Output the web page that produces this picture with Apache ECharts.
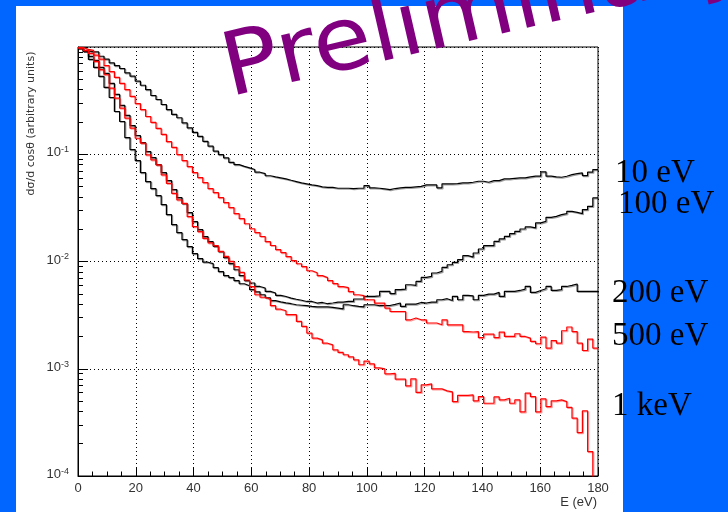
<!DOCTYPE html>
<html>
<head>
<meta charset="utf-8">
<script src="https://cdn.jsdelivr.net/npm/echarts@6/dist/echarts.min.js"></script>
<style>
html,body{margin:0;padding:0;background:#0066ff;}
#c{width:728px;height:512px;}
</style>
</head>
<body>
<div id="c"></div>
<script>
// Histogram: 100 bins of 1.8 eV from 0 to 180 eV
const binWidth = 1.8;
const xTicks = [0, 20, 40, 60, 80, 100, 120, 140, 160, 180];
const yDecades = [1e-4, 1e-3, 1e-2, 1e-1, 1];
const curveNames = ['10 eV', '100 eV', '200 eV', '500 eV', '1 keV'];

const s10eV = [0.98,0.92,0.90,0.90,0.82,0.77,0.71,0.67,0.63,0.575,
0.535,0.48,0.44,0.40,0.353,0.324,0.291,0.261,0.235,0.219,
0.196,0.176,0.160,0.147,0.132,0.119,0.107,0.099,0.0925,0.084,
0.080,0.077,0.0746,0.072,0.068,0.066,0.063,0.0615,0.0602,0.0589,
0.0572,0.0556,0.054,0.053,0.0518,0.051,0.0497,0.0492,0.0492,0.0482,
0.0482,0.0482,0.0479,0.0482,0.0482,0.051,0.0486,0.0482,0.0475,0.0468,
0.0479,0.0486,0.0492,0.0492,0.0497,0.0502,0.0518,0.0518,0.0518,0.0486,
0.053,0.053,0.0533,0.054,0.054,0.0548,0.056,0.056,0.0548,0.0568,
0.0568,0.0589,0.0589,0.0597,0.0602,0.0602,0.0615,0.0624,0.0624,0.0686,
0.0624,0.0615,0.061,0.0624,0.0646,0.066,0.067,0.0633,0.068,0.072];

const s100eV = [0.970,0.910,0.817,0.750,0.645,0.567,0.457,0.361,0.285,0.230,
0.185,0.1495,0.1286,0.106,0.0932,0.0801,0.0675,0.0568,0.0468,0.0394,
0.0347,0.0286,0.0235,0.0198,0.01705,0.0153,0.01384,0.01235,0.01085,0.00954,
0.00838,0.00737,0.00662,0.0063,0.00585,0.00566,0.00526,0.00508,0.00484,0.00472,
0.00456,0.00445,0.00435,0.00424,0.00424,0.0041,0.00415,0.00404,0.0041,0.00418,
0.00418,0.00424,0.00424,0.00447,0.00447,0.00472,0.00472,0.00479,0.00526,0.00526,
0.00501,0.00546,0.00553,0.00607,0.00598,0.00652,0.0071,0.00726,0.00781,0.00808,
0.00881,0.00933,0.0098,0.0104,0.01133,0.0110,0.0120,0.01308,0.01404,0.01404,
0.0154,0.01622,0.01715,0.01818,0.0191,0.0201,0.021,0.02055,0.02288,0.02367,
0.0258,0.02637,0.02735,0.02795,0.02936,0.02874,0.02795,0.03046,0.03269,0.03916];

const s200eV = [0.970,0.910,0.766,0.645,0.532,0.42,0.338,0.2504,0.202,0.1432,
0.1106,0.0873,0.0675,0.0556,0.0478,0.0411,0.0339,0.02735,0.02206,0.01858,
0.01597,0.01374,0.01182,0.01062,0.00985,0.00954,0.00875,0.00803,0.00737,0.00706,
0.00662,0.0062,0.00594,0.00546,0.00522,0.0049,0.00459,0.00431,0.00421,0.00412,
0.00404,0.00395,0.00391,0.00387,0.00381,0.00378,0.00378,0.00378,0.00374,0.00368,
0.00362,0.00395,0.00387,0.00382,0.00378,0.00395,0.00395,0.00387,0.00389,0.00389,
0.00399,0.0041,0.00382,0.00401,0.00401,0.00415,0.0041,0.00418,0.00418,0.0044,
0.0045,0.00433,0.00472,0.0044,0.00484,0.00479,0.0044,0.00483,0.00497,0.00497,
0.00515,0.00472,0.00526,0.00526,0.00537,0.00553,0.00585,0.00515,0.00537,0.00557,
0.00585,0.00537,0.00546,0.00585,0.00598,0.00617,0.00526,0.00526,0.00526,0.00526];

const s500eV = [0.99,0.95,0.93,0.84,0.77,0.67,0.59,0.52,0.457,0.40,
0.346,0.297,0.261,0.225,0.198,0.174,0.153,0.131,0.116,0.0993,
0.0873,0.0767,0.0675,0.0606,0.0543,0.0478,0.0439,0.0394,0.0354,0.0318,
0.0279,0.0251,0.0225,0.0202,0.0186,0.0171,0.0153,0.0141,0.0129,0.0121,
0.0111,0.0102,0.00953,0.00894,0.0082,0.00786,0.00738,0.00707,0.00663,0.00621,
0.00582,0.0057,0.00523,0.0049,0.0048,0.0044,0.0044,0.0041,0.0041,0.00368,
0.00342,0.00342,0.00342,0.00286,0.00297,0.00286,0.00286,0.00267,0.00267,0.00257,
0.00286,0.00257,0.00257,0.00257,0.00222,0.0022,0.00222,0.00195,0.0021,0.0021,
0.00195,0.0022,0.002,0.002,0.00212,0.002,0.00193,0.0018,0.00171,0.00197,
0.00156,0.00183,0.00173,0.00226,0.00245,0.00222,0.00173,0.00148,0.00189,0.00156];

const s1keV = [0.976,0.93,0.871,0.734,0.614,0.551,0.413,0.333,0.269,0.217,
0.175,0.141,0.127,0.0987,0.0887,0.0796,0.0642,0.0536,0.0432,0.0375,
0.0349,0.0262,0.0211,0.019,0.0164,0.0149,0.01404,0.01243,0.01116,0.01002,
0.00894,0.00791,0.00672,0.00582,0.0049,0.00464,0.00445,0.00387,0.00359,0.00347,
0.00319,0.00319,0.00276,0.00248,0.00215,0.00193,0.00186,0.00173,0.00167,0.0015,
0.00142,0.00135,0.00129,0.00121,0.00109,0.00118,0.00111,0.00102,0.000998,0.000896,
0.000906,0.0008,0.0008,0.000692,0.000805,0.000602,0.000708,0.000723,0.000649,0.000649,
0.000622,0.000609,0.000494,0.000564,0.000564,0.00057,0.000502,0.00055,0.000477,0.000477,
0.000546,0.000512,0.000531,0.000477,0.000512,0.000396,0.000592,0.00055,0.000396,0.000523,
0.000444,0.000502,0.000512,0.000494,0.000436,0.000346,0.000254,0.000404,0.000169,0.00005];

const seriesValues = [s10eV, s100eV, s200eV, s500eV, s1keV];
const seriesColors = ['#000000', '#000000', '#000000', '#ff0000', '#ff0000'];
const shadowColors = ['rgba(0,0,0,0.38)', 'rgba(0,0,0,0.38)', 'rgba(0,0,0,0.38)', 'rgba(255,0,0,0.4)', 'rgba(255,0,0,0.4)'];

// layout of the curve labels at right (positions only)
const labelPos = [[615,173],[618,204],[612,293],[612,336],[612,406]];

function histData(vals) {
  const d = vals.map((v, i) => [+(i * binWidth).toFixed(2), v]);
  d.push([+(vals.length * binWidth).toFixed(2), vals[vals.length - 1]]);
  return d;
}

const yMinor = [];
yDecades.slice(0, -1).forEach(d => { for (let m = 2; m <= 9; m++) yMinor.push(+(m * d).toPrecision(3)); });

const chart = echarts.init(document.getElementById('c'), null, {renderer: 'canvas'});

const series = seriesValues.map((vals, k) => ({
  name: curveNames[k],
  type: 'line',
  step: 'end',
  symbol: 'none',
  clip: true,
  silent: true,
  data: histData(vals),
  lineStyle: {color: seriesColors[k], width: 1.2, shadowColor: shadowColors[k], shadowBlur: 0, shadowOffsetX: 1, shadowOffsetY: 1},
  z: 3
}));

const graphic = [
  {type: 'rect', z: -10, silent: true, shape: {x: 16, y: 6, width: 607, height: 506}, style: {fill: '#ffffff'}},
  {type: 'text', x: 31, y: 123.5, rotation: Math.PI / 2, z: 50,
   style: {text: 'dσ/d cosθ (arbitrary units)', font: '11px "DejaVu Sans", sans-serif', fill: '#333', align: 'center', verticalAlign: 'middle'}},
  {type: 'text', x: 597, y: 502, z: 50,
   style: {text: 'E (eV)', font: '13px "Liberation Sans", Arial, sans-serif', fill: '#333', align: 'right', verticalAlign: 'middle'}},
  {type: 'text', x: 234, y: 117, rotation: 0.227, scaleX: 1.08, z: 100,
   style: {text: 'Preliminary', font: '88px "DejaVu Sans", sans-serif', fill: '#800080', align: 'left', verticalAlign: 'bottom'}}
];
curveNames.forEach((n, k) => {
  graphic.push({type: 'text', x: labelPos[k][0], y: labelPos[k][1], z: 100,
    style: {text: n, font: '33px "Liberation Serif", "Times New Roman", serif', fill: '#000', align: 'left', verticalAlign: 'middle'}});
});

const option = {
  backgroundColor: '#0066ff',
  animation: false,
  grid: {left: 78, top: 47, width: 520, height: 429, show: true, borderColor: '#000', borderWidth: 1, backgroundColor: 'transparent'},
  xAxis: {
    type: 'value', min: xTicks[0], max: xTicks[xTicks.length - 1], interval: 20,
    axisLine: {show: true, lineStyle: {color: '#000', width: 1}},
    axisTick: {show: true, inside: true, length: 9, lineStyle: {color: '#000'}},
    minorTick: {show: true, splitNumber: 4, length: 4.5, lineStyle: {color: '#000'}},
    splitLine: {show: true, lineStyle: {color: '#000', type: [1, 3], width: 1}},
    axisLabel: {color: '#333', fontSize: 13, fontFamily: '"Liberation Sans", Arial, sans-serif', margin: 6}
  },
  yAxis: [{
    type: 'log', logBase: 10, min: yDecades[0], max: yDecades[yDecades.length - 1],
    axisLine: {show: true, lineStyle: {color: '#000', width: 1}},
    axisTick: {show: true, inside: true, length: 10, lineStyle: {color: '#000'}},
    splitLine: {show: true, lineStyle: {color: '#000', type: [1, 3], width: 1}},
    axisLabel: {
      margin: 9,
      padding: [0, 0, 4, 0],
      formatter: function (v) {
        const e = Math.round(Math.log10(v));
        if (e >= 0) return '';
        return '{b|10}{s|' + e + '}';
      },
      rich: {
        b: {fontSize: 13, color: '#333', fontFamily: '"Liberation Sans", Arial, sans-serif', lineHeight: 14, verticalAlign: 'bottom'},
        s: {fontSize: 9, color: '#333', fontFamily: '"Liberation Sans", Arial, sans-serif', lineHeight: 10, verticalAlign: 'top', padding: [0, 0, 10, 0]}
      }
    }
  }, {
    type: 'log', logBase: 10, min: yDecades[0], max: yDecades[yDecades.length - 1], position: 'left',
    axisLine: {show: false},
    axisLabel: {show: false},
    splitLine: {show: false},
    axisTick: {show: true, inside: true, length: 5, customValues: yMinor, lineStyle: {color: '#000'}}
  }],
  series: series,
  graphic: graphic
};
chart.setOption(option);
</script>
</body>
</html>
